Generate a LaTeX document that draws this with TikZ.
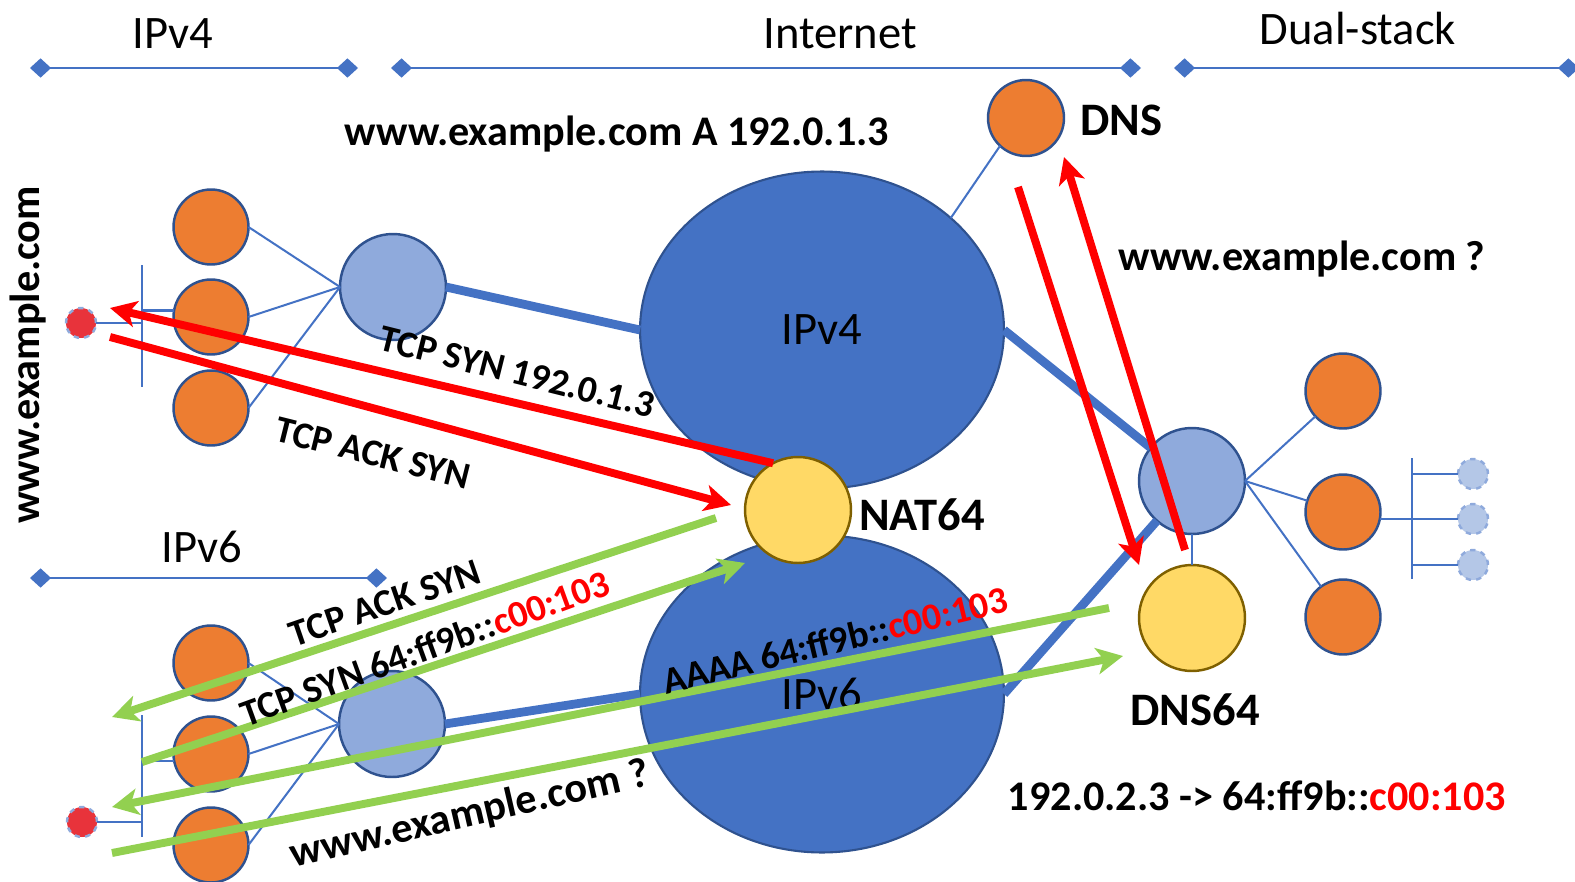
\documentclass[tikz,border=0pt]{standalone}
\usepackage{fontspec}
\setmainfont{Carlito}
\usetikzlibrary{shapes.geometric,arrows.meta}
\definecolor{leaforange}{HTML}{ED7D31}
\definecolor{edgeblue}{HTML}{2F528F}
\definecolor{netblue}{HTML}{4472C4}
\definecolor{routerblue}{HTML}{8FAADC}
\definecolor{ghostblue}{HTML}{B4C7E7}
\definecolor{natyellow}{HTML}{FFD966}
\definecolor{natbrown}{HTML}{7F6000}
\definecolor{hostred}{HTML}{E8333B}
\definecolor{flowred}{HTML}{FF0000}
\definecolor{flowgreen}{HTML}{92D050}

\begin{document}
\begin{tikzpicture}[x=0.02cm,y=-0.02cm,
  leaf/.style={circle,draw=edgeblue,line width=1.4pt,fill=leaforange,minimum size=1.5cm,inner sep=0pt,outer sep=0pt},
  router/.style={circle,draw=edgeblue,line width=1.4pt,fill=routerblue,minimum size=2.12cm,inner sep=0pt,outer sep=0pt},
  gate/.style={circle,draw=natbrown,line width=1.4pt,fill=natyellow,minimum size=2.12cm,inner sep=0pt,outer sep=0pt},
  cloud/.style={ellipse,draw=edgeblue,line width=1.2pt,fill=netblue,minimum width=7.28cm,minimum height=6.34cm,inner sep=0pt,outer sep=0pt,font=\fontsize{26.5}{30}\selectfont},
  hostdot/.style={circle,draw=routerblue,dashed,line width=1.4pt,fill=hostred,minimum size=0.6cm,inner sep=0pt,outer sep=0pt},
  ghost/.style={circle,draw=routerblue,dashed,line width=1.4pt,fill=ghostblue,minimum size=0.6cm,inner sep=0pt,outer sep=0pt},
  wire/.style={draw=netblue,line width=1.15pt},
  trunk/.style={draw=netblue,line width=5pt},
  dimline/.style={draw=netblue,line width=1.2pt,{Diamond[length=12pt,width=11pt]}-{Diamond[length=12pt,width=11pt]}},
  redflow/.style={draw=flowred,line width=4.5pt,-{Stealth[length=15pt,width=15pt,inset=4pt]}},
  greenflow/.style={draw=flowgreen,line width=4.5pt,-{Stealth[length=15pt,width=15pt,inset=4pt]}},
  zone/.style={font=\fontsize{26.5}{30}\selectfont,anchor=base},
  tag/.style={font=\bfseries\fontsize{26.5}{30}\selectfont,anchor=base},
  msg/.style={font=\bfseries\fontsize{24}{28}\selectfont},
  pkt/.style={font=\bfseries\fontsize{21.5}{26}\selectfont}]
\useasboundingbox (0,0) rectangle (1575,882);

\node[zone] (lblv4) at (173,49) {IPv4};
\node[zone] (lblnet) at (840,49) {Internet};
\node[zone] (lblds) at (1358,45) {Dual-stack};
\node[zone] (lblv6) at (202,562) {IPv6};
\draw[dimline] (30,68) -- (358,68);
\draw[dimline] (391,68) -- (1141,68);
\draw[dimline] (1174,68) -- (1579,68);
\draw[dimline] (30,578) -- (387,578);

\node[cloud] (ipv4) at (822,330) {IPv4};
\node[cloud] (ipv6) at (822,694) {IPv6};

\node[leaf] (v4a) at (211,227) {};
\node[leaf] (v4b) at (211,317) {};
\node[leaf] (v4c) at (211,408) {};
\node[router] (v4r) at (393,287) {};
\node[hostdot] (v4host) at (81,323) {};
\coordinate (v4top) at (142,265);
\coordinate (v4bot) at (142,387);
\draw[wire] (v4top) -- (v4bot);
\draw[wire] (v4host) -- (v4host -| v4top);
\draw[wire] (v4top |- v4b.170) -- (v4b.170);
\draw[wire] (v4r.west) -- (v4a.east);
\draw[wire] (v4r.west) -- (v4b.east);
\draw[wire] (v4r.west) -- (v4c.east);
\draw[trunk] (v4r.east) -- (ipv4.west);

\node[leaf] (v6a) at (211,663) {};
\node[leaf] (v6b) at (211,754) {};
\node[leaf] (v6c) at (211,845) {};
\node[router] (v6r) at (392,724) {};
\node[hostdot] (v6host) at (82,822) {};
\coordinate (v6top) at (142,715);
\coordinate (v6bot) at (142,837);
\draw[wire] (v6top) -- (v6bot);
\draw[wire] (v6host) -- (v6host -| v6top);
\draw[wire] (v6top |- v6b.-170) -- (v6b.-170);
\draw[wire] (v6r.west) -- (v6a.east);
\draw[wire] (v6r.west) -- (v6b.east);
\draw[wire] (v6r.west) -- (v6c.east);
\draw[trunk] (v6r.east) -- (ipv6.west);

\node[router] (dsr) at (1192,481) {};
\node[gate] (dns64) at (1192,618) {};
\node[leaf] (dsa) at (1343,391) {};
\node[leaf] (dsb) at (1343,512) {};
\node[leaf] (dsc) at (1343,617) {};
\node[ghost] (dsh1) at (1473,474) {};
\node[ghost] (dsh2) at (1473,519) {};
\node[ghost] (dsh3) at (1473,565) {};
\coordinate (dstop) at (1412,458);
\coordinate (dsbot) at (1412,579);
\draw[wire] (dstop) -- (dsbot);
\draw[wire] (dsh1) -- (dsh1 -| dstop);
\draw[wire] (dsh2) -- (dsh2 -| dstop);
\draw[wire] (dsh3) -- (dsh3 -| dstop);
\draw[wire] (dsb.-10) -- (dsb.-10 -| dstop);
\draw[wire] (dsr.east) -- (dsa);
\draw[wire] (dsr.east) -- (dsb);
\draw[wire] (dsr.east) -- (dsc);
\draw[wire] (dsr) -- (dns64);
\draw[trunk] (ipv4.east) -- (dsr);
\draw[trunk] (ipv6.east) -- (dsr);

\node[gate] (nat) at (798,510) {};
\node[leaf,minimum size=1.52cm] (dns) at (1026,118) {};
\draw[wire] (dns.227) -- (ipv4.41);

\coordinate (r1tip) at (110,308);
\coordinate (r2tail) at (110,337);
\coordinate (r2tip) at (731,505);
\coordinate (r3tail) at (1018,187);
\coordinate (r3tip) at (1139,565);
\coordinate (r4tail) at (1185,550);
\coordinate (r4tip) at (1064,157);
\draw[redflow] (nat.118) -- (r1tip);
\draw[redflow] (r2tail) -- (r2tip);
\draw[redflow] (r3tail) -- (r3tip);
\draw[redflow] (r4tail) -- (r4tip);

\coordinate (g1tail) at (716,518);
\coordinate (g1tip) at (112,717);
\coordinate (g2tail) at (142,762);
\coordinate (g2tip) at (745,563);
\coordinate (g3tail) at (1109,608);
\coordinate (g3tip) at (112,807);
\coordinate (g4tail) at (112,853);
\coordinate (g4tip) at (1123,656);
\draw[greenflow] (g1tail) -- (g1tip);
\draw[greenflow] (g2tail) -- (g2tip);
\draw[greenflow] (g3tail) -- (g3tip);
\draw[greenflow] (g4tail) -- (g4tip);

\node[tag] (natlbl) at (922,530) {NAT64};
\node[tag] (dnslbl) at (1121,135) {DNS};
\node[tag] (dns64lbl) at (1195,725) {DNS64};
\node[msg,anchor=base] (arec) at (617,145) {www.example.com A 192.0.1.3};
\node[msg,anchor=base] (query) at (1302,270) {www.example.com ?};
\node[msg,anchor=base] (synth) at (1257,810) {192.0.2.3 -> 64:ff9b::\textcolor{flowred}{c00:103}};
\node[msg,rotate=90] (site) at (28,355) {www.example.com};

\node[pkt,rotate=-14] (r1lbl) at (517,372) {TCP SYN 192.0.1.3};
\node[pkt,rotate=-14] (r2lbl) at (373,453) {TCP ACK SYN};
\node[pkt,rotate=19] (g1lbl) at (385,603) {TCP ACK SYN};
\node[pkt,rotate=20] (g2lbl) at (425,648) {TCP SYN 64:ff9b::\textcolor{flowred}{c00:103}};
\node[pkt,rotate=13.5] (g3lbl) at (835,640) {AAAA 64:ff9b::\textcolor{flowred}{c00:103}};
\node[msg,rotate=13] (g4lbl) at (470,815) {www.example.com ?};
\end{tikzpicture}
\end{document}
